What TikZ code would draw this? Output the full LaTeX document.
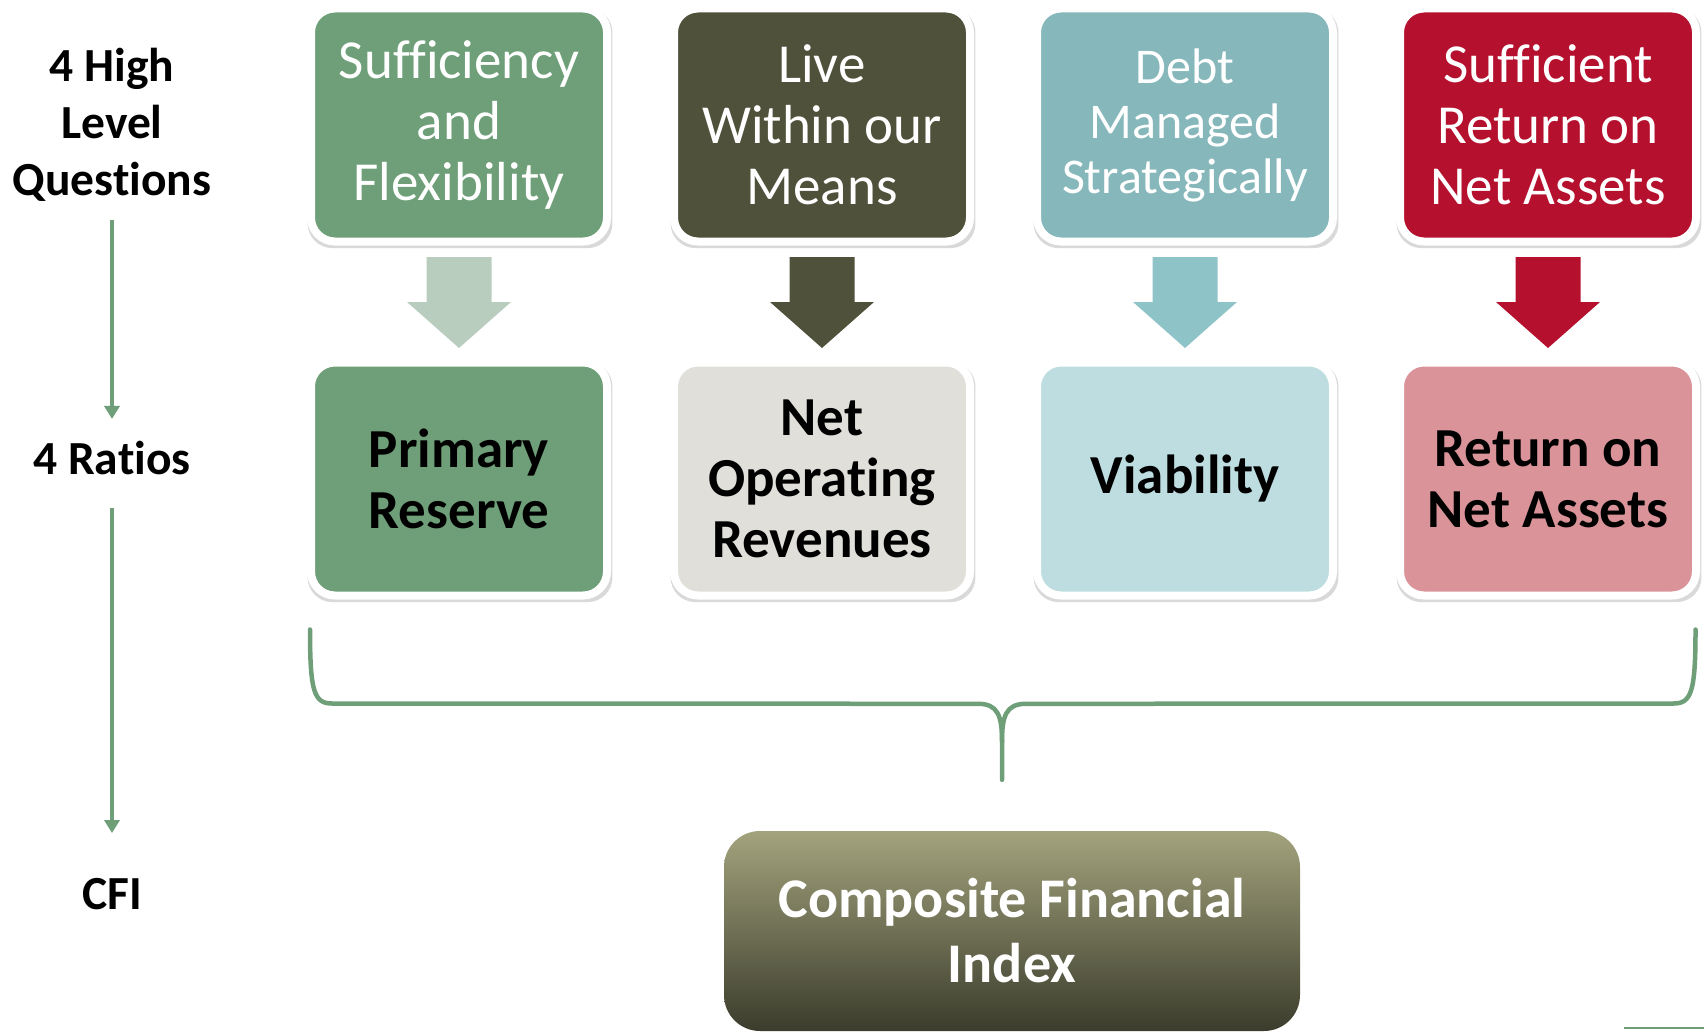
\documentclass[tikz,border=0pt]{standalone}
\usepackage{fontspec}
\setmainfont[Ligatures=NoCommon]{Carlito}
\usetikzlibrary{positioning, arrows.meta, shadows, calc}

\definecolor{sfgreen}{HTML}{6E9F78}
\definecolor{sfpale}{HTML}{B9CDBF}
\definecolor{lwdark}{HTML}{50513A}
\definecolor{lwgray}{HTML}{E0DFDA}
\definecolor{dmteal}{HTML}{86B7BB}
\definecolor{dmarrow}{HTML}{8EC3C8}
\definecolor{dmpale}{HTML}{BEDDE0}
\definecolor{srred}{HTML}{B5112F}
\definecolor{srpink}{HTML}{DA9499}
\definecolor{cfitop}{HTML}{A3A37D}
\definecolor{cfibot}{HTML}{3B3C2C}

\tikzset{
	node distance=363pt,
	>={Triangle[width=15pt,length=13pt]},
	question/.style={draw=white, line width=8pt, rounded corners=24pt,
		minimum width=296pt, minimum height=233pt, align=center,
		text=white, font=\fontsize{55}{61}\selectfont,
		drop shadow={shadow xshift=1pt, shadow yshift=-3pt, shadow scale=1.03, opacity=.3}},
	ratio/.style={question, text=black, font=\fontsize{55}{61}\selectfont\bfseries},
	levelname/.style={inner sep=0pt, align=center, font=\fontsize{47.5}{57}\selectfont\bfseries},
	levelarrow/.style={->, draw=sfgreen, line width=4pt},
	cfibox/.style={rounded corners=36pt, minimum width=576pt, minimum height=200pt,
		top color=cfitop, bottom color=cfibot, align=center, text=white,
		font=\fontsize{56}{65}\selectfont\bfseries},
	brace/.style={draw=sfgreen, line width=4.5pt, line cap=round}}

% block arrow between a question and its ratio
\newcommand\blockarrow[3]{
	\fill[#3] ($(#1.south)!.5!(#2.north)$) ++(-32.5,45) -- ++(65,0) -- ++(0,-45)
		-- ++(19.5,0) -- ++(-52,-46) -- ++(-52,46) -- ++(19.5,0) -- cycle;}

\begin{document}
\begin{tikzpicture}[x=1pt, y=1pt]
	\useasboundingbox (0,0) rectangle (1704,-1033);

	% level names
	\node[levelname] (hlq) at (112,-125) {4 High\\Level\\Questions};
	\node[levelname] (rat) at (112,-458) {4 Ratios};
	\node[levelname] (cfin) at (112,-894) {CFI};
	\draw[levelarrow, shorten <=18pt, shorten >=22pt] (hlq) -- (rat);
	\draw[levelarrow, shorten <=33pt, shorten >=45pt] (rat) -- (cfin);

	% questions
	\node[question, fill=sfgreen] (q1) at (459,-125) {Sufficiency\\and\\Flexibility};
	\node[question, fill=lwdark, right of=q1] (q2) {Live\\Within our\\Means};
	\node[question, fill=dmteal, right of=q2, font=\fontsize{50}{55}\selectfont] (q3) {Debt\\Managed\\Strategically};
	\node[question, fill=srred, right of=q3] (q4) {Sufficient\\Return on\\Net Assets};

	% ratios
	\node[ratio, fill=sfgreen, below of=q1, node distance=354pt] (r1) {Primary\\Reserve};
	\node[ratio, fill=lwgray, below of=q2, node distance=354pt] (r2) {Net\\Operating\\Revenues};
	\node[ratio, fill=dmpale, below of=q3, node distance=354pt] (r3) {Viability};
	\node[ratio, fill=srpink, below of=q4, node distance=354pt] (r4) {Return on\\Net Assets};

	\blockarrow{q1}{r1}{sfpale}
	\blockarrow{q2}{r2}{lwdark}
	\blockarrow{q3}{r3}{dmarrow}
	\blockarrow{q4}{r4}{srred}

	% composite index
	\node[cfibox] (cfi) at (1012,-931) {Composite Financial\\Index};

	% brace
	\coordinate (bl) at ($(r1.south west)+(3,-30)$);
	\coordinate (br) at ($(r4.south east)+(-4.5,-30)$);
	\coordinate (bt) at ($(cfi.north)+(-10,51)$);
	\draw[brace] (bl) .. controls ($(bl)+(0,-62)$) and ($(bl)+(4,-74)$) .. ($(bl)+(22,-74)$)
		-- ($(bt)+(-24,76)$) .. controls ($(bt)+(-4,76)$) and ($(bt)+(0,64)$) .. ($(bt)+(0,38)$) -- (bt);
	\draw[brace] (br) .. controls ($(br)+(0,-62)$) and ($(br)+(-4,-74)$) .. ($(br)+(-22,-74)$)
		-- ($(bt)+(24,76)$) .. controls ($(bt)+(4,76)$) and ($(bt)+(0,64)$) .. ($(bt)+(0,38)$);

	\draw[sfgreen, line width=2.5pt] (1624,-1028) -- (1704,-1028);
\end{tikzpicture}
\end{document}
